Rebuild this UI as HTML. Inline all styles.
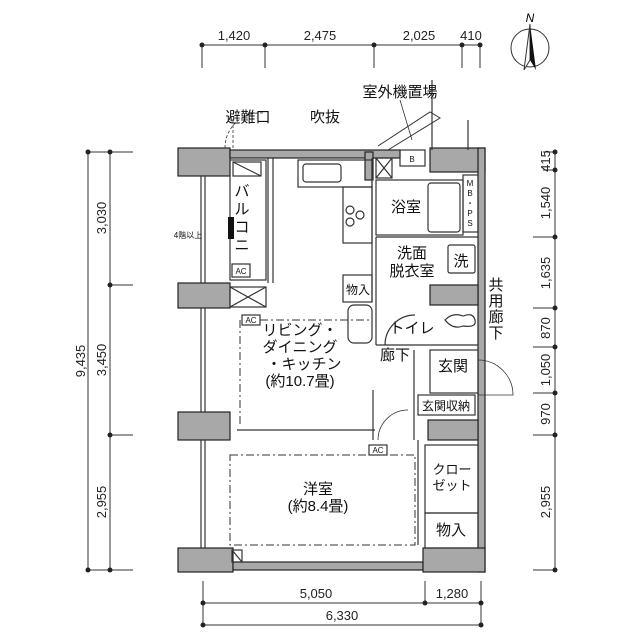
<!DOCTYPE html>
<html><head><meta charset="utf-8"><style>
html,body{margin:0;padding:0;background:#fff;}
svg{display:block;font-family:"Liberation Sans","Noto Sans CJK JP",sans-serif;}
</style></head><body>
<svg width="640" height="640" viewBox="0 0 640 640" xmlns="http://www.w3.org/2000/svg">
<g stroke="#333" stroke-width="1" fill="none">
<line x1="202" y1="45" x2="480" y2="45"/>
<line x1="202" y1="45" x2="202" y2="68"/><line x1="265" y1="45" x2="265" y2="68"/><line x1="374" y1="45" x2="374" y2="68"/><line x1="462" y1="45" x2="462" y2="68"/><line x1="480" y1="45" x2="480" y2="68"/>
<line x1="88" y1="152" x2="88" y2="570"/><line x1="110" y1="152" x2="110" y2="570"/>
<line x1="88" y1="152" x2="133" y2="152"/><line x1="110" y1="285" x2="133" y2="285"/><line x1="110" y1="435" x2="133" y2="435"/><line x1="88" y1="570" x2="133" y2="570"/>
<line x1="555" y1="152" x2="555" y2="570"/>
<line x1="543" y1="152" x2="555" y2="152"/><line x1="543" y1="170" x2="555" y2="170"/><line x1="533" y1="237" x2="555" y2="237"/><line x1="533" y1="308" x2="555" y2="308"/><line x1="533" y1="347" x2="555" y2="347"/><line x1="533" y1="393" x2="555" y2="393"/><line x1="533" y1="435" x2="555" y2="435"/><line x1="533" y1="570" x2="555" y2="570"/>
<line x1="203" y1="603" x2="481" y2="603"/><line x1="203" y1="625" x2="481" y2="625"/>
<line x1="203" y1="581" x2="203" y2="625"/><line x1="425" y1="581" x2="425" y2="603"/><line x1="481" y1="581" x2="481" y2="625"/>
<circle cx="530" cy="48" r="19"/>
</g>
<g fill="#222">
<circle cx="202" cy="45" r="2.5"/><circle cx="265" cy="45" r="2.5"/><circle cx="374" cy="45" r="2.5"/><circle cx="462" cy="45" r="2.5"/><circle cx="480" cy="45" r="2.5"/>
<circle cx="88" cy="152" r="2.5"/><circle cx="110" cy="152" r="2.5"/><circle cx="110" cy="285" r="2.5"/><circle cx="110" cy="435" r="2.5"/><circle cx="88" cy="570" r="2.5"/><circle cx="110" cy="570" r="2.5"/>
<circle cx="555" cy="152" r="2.5"/><circle cx="555" cy="170" r="2.5"/><circle cx="555" cy="237" r="2.5"/><circle cx="555" cy="308" r="2.5"/><circle cx="555" cy="347" r="2.5"/><circle cx="555" cy="393" r="2.5"/><circle cx="555" cy="435" r="2.5"/><circle cx="555" cy="570" r="2.5"/>
<circle cx="203" cy="603" r="2.5"/><circle cx="425" cy="603" r="2.5"/><circle cx="481" cy="603" r="2.5"/><circle cx="203" cy="625" r="2.5"/><circle cx="481" cy="625" r="2.5"/>
</g>
<polygon points="530,24 524,70 530,60" fill="#fff" stroke="#333"/>
<polygon points="530,24 536,70 530,60" fill="#111"/>
<text x="530" y="22" font-size="12" text-anchor="middle" font-style="italic">N</text>

<g font-size="13" fill="#222" text-anchor="middle">
<text x="234" y="40">1,420</text><text x="320" y="40">2,475</text><text x="419" y="40">2,025</text><text x="471" y="40">410</text>
<text x="316" y="598">5,050</text><text x="452" y="598">1,280</text><text x="342" y="620">6,330</text>
<text transform="translate(85,361) rotate(-90)">9,435</text>
<text transform="translate(106,218) rotate(-90)">3,030</text>
<text transform="translate(106,360) rotate(-90)">3,450</text>
<text transform="translate(106,502) rotate(-90)">2,955</text>
<text transform="translate(550,161) rotate(-90)">415</text>
<text transform="translate(550,203) rotate(-90)">1,540</text>
<text transform="translate(550,273) rotate(-90)">1,635</text>
<text transform="translate(550,328) rotate(-90)">870</text>
<text transform="translate(550,370) rotate(-90)">1,050</text>
<text transform="translate(550,414) rotate(-90)">970</text>
<text transform="translate(550,502) rotate(-90)">2,955</text>
</g>

<g fill="#a8a8a8" stroke="#222" stroke-width="1.2">
<rect x="178" y="148" width="52" height="28"/>
<rect x="230" y="150" width="170" height="8"/>
<rect x="430" y="148" width="55" height="24"/>
<rect x="478" y="148" width="7" height="424"/>
<rect x="178" y="283" width="52" height="25"/>
<rect x="178" y="412" width="52" height="28"/>
<rect x="178" y="548" width="55" height="24"/>
<rect x="233" y="562" width="190" height="8"/>
<rect x="423" y="548" width="62" height="24"/>
<rect x="430" y="285" width="48" height="20"/>
<rect x="428" y="420" width="50" height="20"/>
<rect x="365" y="152" width="8" height="28"/>
</g>
<g stroke="#333" fill="none" stroke-width="1.2">
<rect x="230" y="160" width="36" height="120"/>
<line x1="201" y1="176" x2="201" y2="283"/><line x1="205" y1="176" x2="205" y2="283"/>
<line x1="201" y1="308" x2="201" y2="412"/><line x1="205" y1="308" x2="205" y2="412"/>
<line x1="201" y1="440" x2="201" y2="548"/><line x1="205" y1="440" x2="205" y2="548"/>
<rect x="232" y="264" width="18" height="13"/>
<rect x="233" y="162" width="28" height="14"/><line x1="233" y1="162" x2="261" y2="176"/>
<rect x="230" y="287" width="36" height="20"/><line x1="230" y1="287" x2="266" y2="307"/><line x1="266" y1="287" x2="230" y2="307"/>
<line x1="268" y1="158" x2="268" y2="283"/><line x1="273" y1="158" x2="273" y2="283"/>
<rect x="298" y="160" width="74" height="27"/>
<rect x="303" y="164" width="38" height="18" rx="3"/>
<rect x="343" y="187" width="29" height="56"/>
<circle cx="350" cy="210" r="4"/><circle cx="360" cy="215" r="4"/><circle cx="350" cy="222" r="4"/>
<line x1="372" y1="158" x2="372" y2="302"/>
<rect x="376" y="158" width="16" height="20"/><line x1="376" y1="158" x2="392" y2="178"/><line x1="392" y1="158" x2="376" y2="178"/>
<rect x="400" y="150" width="25" height="16"/>
<rect x="376" y="180" width="87" height="55"/>
<rect x="428" y="183" width="32" height="49" rx="3"/>
<rect x="463" y="175" width="15" height="57"/>
<line x1="376" y1="237" x2="478" y2="237"/>
<rect x="448" y="245" width="27" height="28" rx="2"/>
<line x1="376" y1="237" x2="376" y2="345"/>
<rect x="343" y="275" width="29" height="27"/>
<rect x="348" y="305" width="24" height="38" rx="6"/>
<line x1="376" y1="345" x2="478" y2="345"/>
<path d="M445 320 q8 -8 18 -4 q10 -4 12 4 q2 8 -12 6 q-10 4 -18 -6z"/>
<path d="M385 345 a30 30 0 0 1 30 -30"/>
<rect x="430" y="350" width="48" height="43"/>
<rect x="418" y="395" width="57" height="20"/>
<line x1="414" y1="350" x2="414" y2="440"/>
<path d="M478 360 a35 35 0 0 1 35 35 L478 395" stroke-width="0.8"/>
<line x1="373" y1="390" x2="373" y2="440"/>
<path d="M378 440 a30 30 0 0 1 30 -30" stroke-width="0.8"/>
<rect x="425" y="445" width="53" height="68"/>
<rect x="425" y="513" width="53" height="35"/>
<line x1="418" y1="440" x2="418" y2="545"/>
<rect x="232" y="550" width="10" height="12"/><line x1="232" y1="550" x2="242" y2="562"/>
<line x1="237" y1="430" x2="375" y2="430"/>
<rect x="369" y="445" width="18" height="10"/>
<rect x="242" y="315" width="18" height="10"/>
<path d="M378 146 L430 112 L440 118 L388 150" stroke-width="1"/>
<line x1="432" y1="80" x2="432" y2="150"/>
<line x1="468" y1="120" x2="468" y2="150"/>
<path d="M225 148 a35 35 0 0 1 38 -35" stroke-dasharray="3,2" stroke-width="0.8"/>
<line x1="233" y1="148" x2="233" y2="120" stroke-dasharray="3,2" stroke-width="0.8"/>
<line x1="400" y1="100" x2="412" y2="140" stroke-width="0.8"/>
</g>
<g stroke="#333" fill="none" stroke-dasharray="8,3,2,3">
<polyline points="240,320 240,425"/>
<polyline points="260,320 372,320"/>
<rect x="230" y="455" width="185" height="90"/>
</g>
<g fill="#111" font-size="8" text-anchor="middle">
<text x="241" y="274">AC</text><text x="251" y="323">AC</text><text x="378" y="453">AC</text>
<text x="412" y="162">B</text>
</g>
<rect x="228" y="217" width="6" height="22" fill="#111"/>
<g fill="#111" font-size="15" text-anchor="middle">
<text x="248" y="122">避難口</text>
<text x="325" y="122">吹抜</text>
<text x="400" y="97">室外機置場</text>
<text x="242" y="196">バ</text><text x="242" y="214">ル</text><text x="242" y="232">コ</text><text x="242" y="250">ニ</text>
<text x="406" y="212">浴室</text>
<text x="412" y="258">洗面</text><text x="412" y="276">脱衣室</text>
<text x="461" y="266">洗</text>
<text x="358" y="294" font-size="12">物入</text>
<text x="412" y="333">トイレ</text>
<text x="395" y="360">廊下</text>
<text x="453" y="371">玄関</text>
<text x="446" y="410" font-size="12">玄関収納</text>
<text x="300" y="335">リビング・</text>
<text x="300" y="352">ダイニング</text>
<text x="304" y="369">・キッチン</text>
<text x="300" y="386">(約10.7畳)</text>
<text x="318" y="494">洋室</text>
<text x="318" y="511">(約8.4畳)</text>
<text x="452" y="474" font-size="13">クロー</text>
<text x="452" y="490" font-size="13">ゼット</text>
<text x="451" y="535">物入</text>
<text x="496" y="290">共</text><text x="496" y="306">用</text><text x="496" y="322">廊</text><text x="496" y="338">下</text>
</g>
<g fill="#111" font-size="8" text-anchor="middle">
<text x="470" y="186">M</text><text x="470" y="196">B</text><text x="470" y="206">・</text><text x="470" y="216">P</text><text x="470" y="226">S</text>
<text x="188" y="238">4階以上</text>
</g>
</svg>
</body></html>
